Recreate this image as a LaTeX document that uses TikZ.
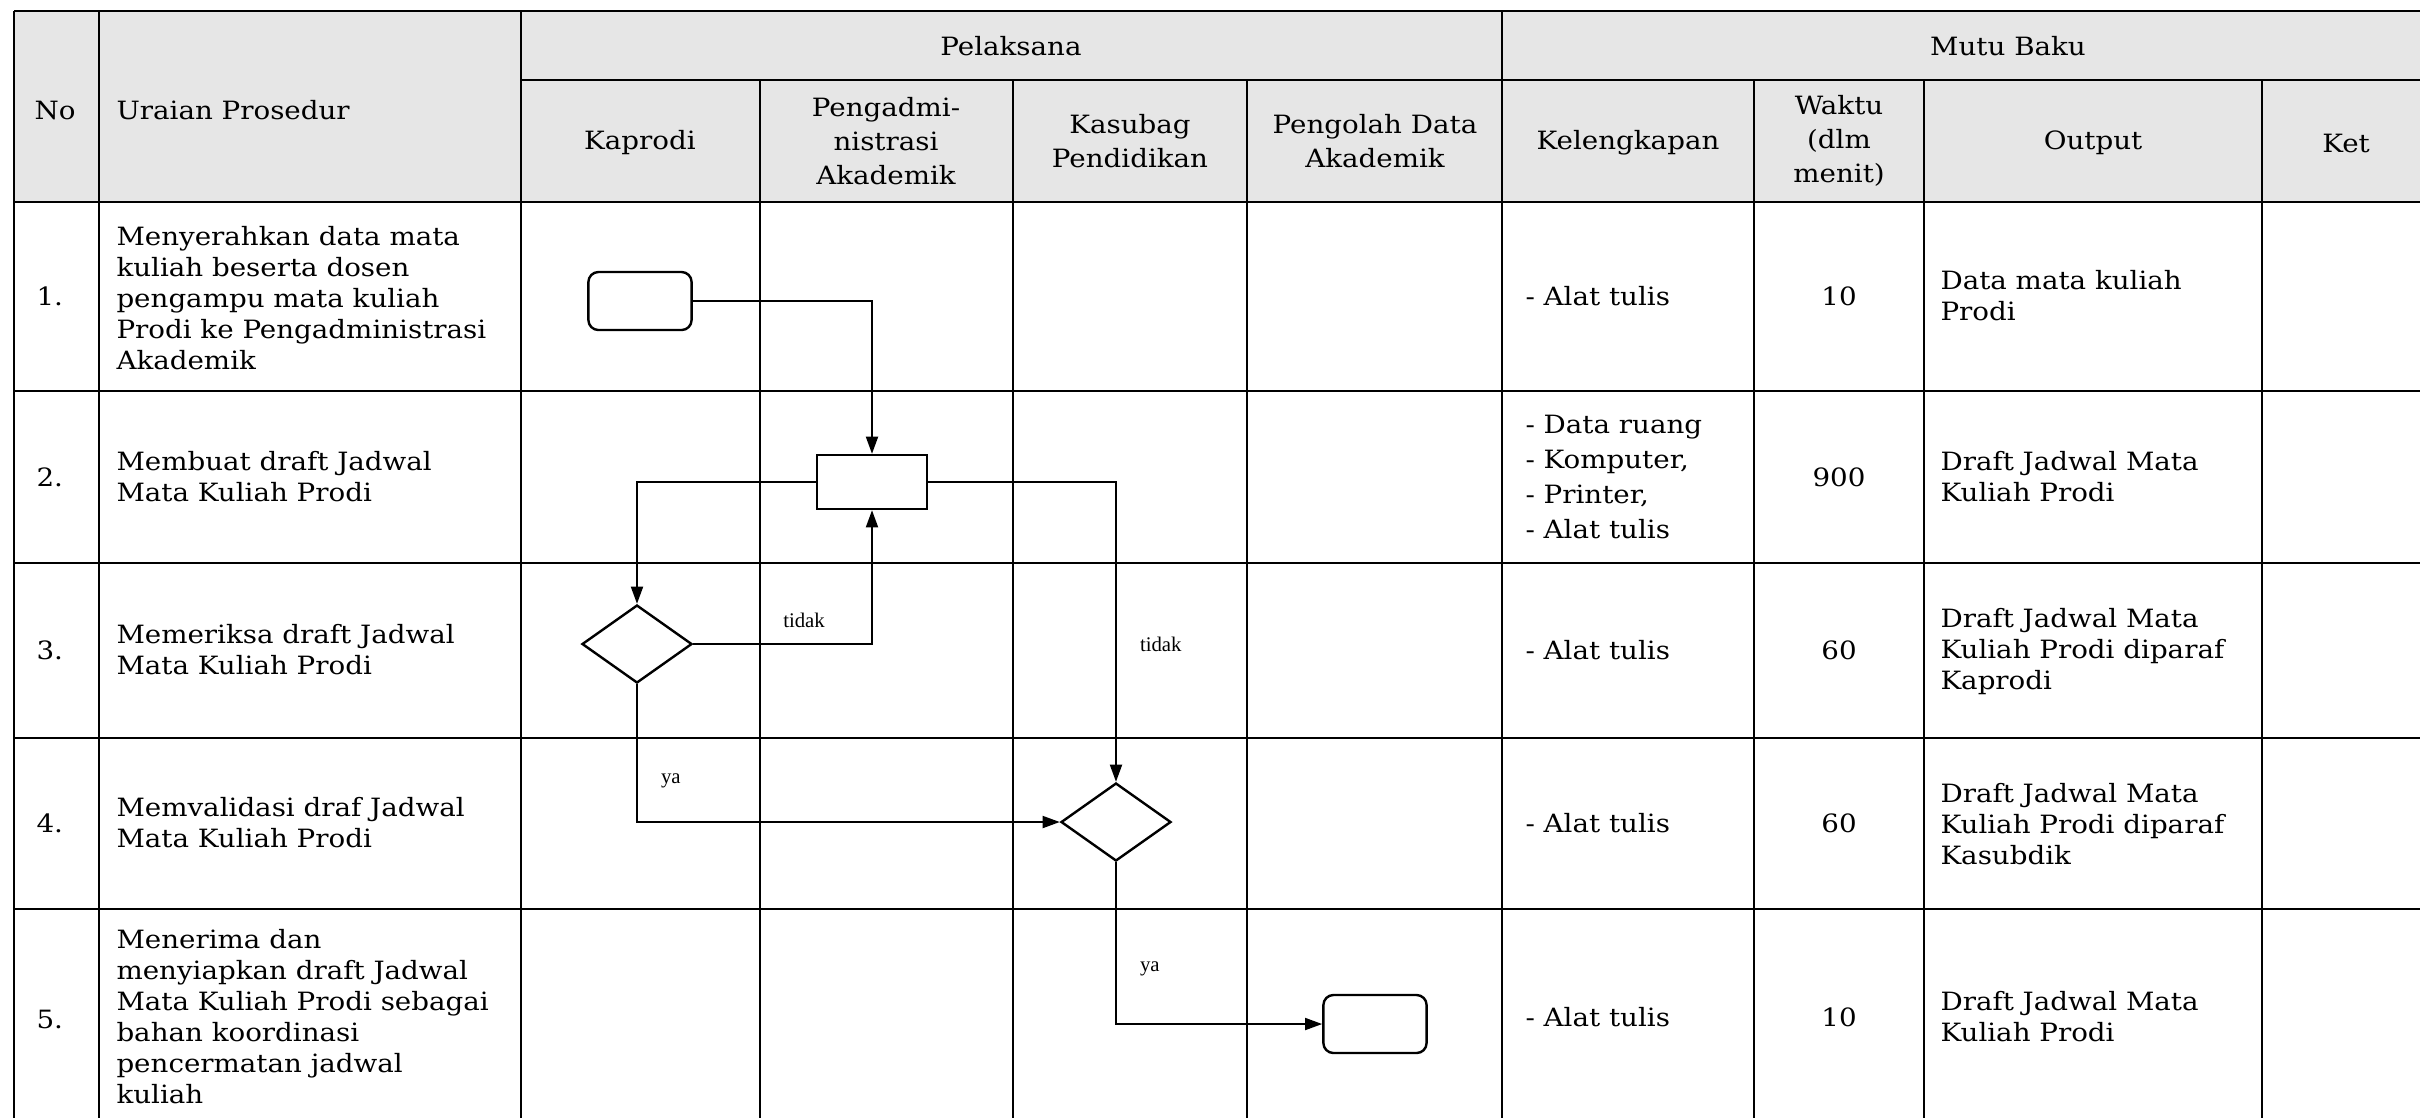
\documentclass[tikz,border=0pt]{standalone}
\usepackage{fontspec}
\setmainfont{DejaVu Serif}[FakeStretch=1.1]
\newfontfamily\lblfont{Liberation Serif}
\usetikzlibrary{arrows.meta,shapes.geometric}

\definecolor{hdrgray}{RGB}{230,230,230}

\tikzset{every picture/.style={line width=0.75pt}}
\tikzset{
  grid/.style={line width=0.6pt},
  celltxt/.style={inner sep=0.75pt, font=\fontsize{6.3}{7.75}\selectfont, align=left, anchor=west},
  hdrtxt/.style={inner sep=0.75pt, font=\fontsize{6.3}{8.5}\selectfont, align=center},
  numtxt/.style={inner sep=0.75pt, font=\fontsize{6.3}{7.75}\selectfont},
  flow/.style={line width=0.5pt, -{Triangle[length=4.3pt,width=3pt]}},
  termbox/.style={draw, line width=0.6pt, rounded corners=2.5pt, minimum width=25.8pt, minimum height=14.5pt, inner sep=0pt},
  procbox/.style={draw, line width=0.6pt, minimum width=27.5pt, minimum height=13.5pt, inner sep=0pt},
  decbox/.style={draw, diamond, line width=0.6pt, minimum width=27.5pt, minimum height=19.5pt, inner sep=0pt},
  lbl/.style={inner sep=0.75pt, font=\lblfont\fontsize{5.2}{6}\selectfont}
}

\begin{document}
\begin{tikzpicture}[x=0.25pt,y=0.25pt,yscale=-1,xscale=1]
\useasboundingbox (0,0) rectangle (2420,1118);

%Header shading
\fill [hdrgray] (14,11) rectangle (2420,202);

%Straight Lines (table)
\foreach \yy in {11,202,391,563,738,909} \draw [grid] (14,\yy) -- (2420,\yy);
\draw [grid] (521,80) -- (2420,80);
\foreach \xx in {14,99,521,1502} \draw [grid] (\xx,11) -- (\xx,1118);
\foreach \xx in {760,1013,1247,1754,1924,2262} \draw [grid] (\xx,80) -- (\xx,1118);

% Header Text
\node (hno) at (30,110) [numtxt, anchor=west] {No};
\node (huraian) at (112,110) [celltxt] {Uraian Prosedur};
\node (hpelaksana) at (1011,46) [hdrtxt] {Pelaksana};
\node (hmutu) at (2008,46) [hdrtxt] {Mutu Baku};
\node (hkaprodi) at (640,143) [hdrtxt] {Kaprodi};
\node (hadmin) at (886,141) [hdrtxt] {Pengadmi-\\nistrasi\\Akademik};
\node (hkasubag) at (1130,141) [hdrtxt] {Kasubag\\Pendidikan};
\node (hpengolah) at (1375,141) [hdrtxt] {Pengolah Data\\Akademik};
\node (hkeleng) at (1628,143) [hdrtxt] {Kelengkapan};
\node (hwaktu) at (1839,141) [hdrtxt] {Waktu\\(dlm\\menit)};
\node (houtput) at (2093,143) [hdrtxt] {Output};
\node (hket) at (2346,143) [hdrtxt] {Ket};

% Row numbers
\node (n1) at (32,296) [numtxt, anchor=west] {1.};
\node (n2) at (32,477) [numtxt, anchor=west] {2.};
\node (n3) at (32,650) [numtxt, anchor=west] {3.};
\node (n4) at (32,823) [numtxt, anchor=west] {4.};
\node (n5) at (32,1019) [numtxt, anchor=west] {5.};

% Uraian Prosedur
\node (u1) at (112,298) [celltxt] {Menyerahkan data mata\\kuliah beserta dosen\\pengampu mata kuliah\\Prodi ke Pengadministrasi\\Akademik};
\node (u2) at (112,477) [celltxt] {Membuat draft Jadwal\\Mata Kuliah Prodi};
\node (u3) at (112,650) [celltxt] {Memeriksa draft Jadwal\\Mata Kuliah Prodi};
\node (u4) at (112,823) [celltxt] {Memvalidasi draf Jadwal\\Mata Kuliah Prodi};
\node (u5) at (112,1017) [celltxt] {Menerima dan\\menyiapkan draft Jadwal\\Mata Kuliah Prodi sebagai\\bahan koordinasi\\pencermatan jadwal\\kuliah};

% Kelengkapan
\node (k1) at (1521,296) [celltxt] {- Alat tulis};
\node (k2) at (1521,477) [celltxt, font=\fontsize{6.3}{8.75}\selectfont] {- Data ruang\\- Komputer,\\- Printer,\\- Alat tulis};
\node (k3) at (1521,650) [celltxt] {- Alat tulis};
\node (k4) at (1521,823) [celltxt] {- Alat tulis};
\node (k5) at (1521,1017) [celltxt] {- Alat tulis};

% Waktu
\node (w1) at (1839,296) [numtxt] {10};
\node (w2) at (1839,477) [numtxt] {900};
\node (w3) at (1839,650) [numtxt] {60};
\node (w4) at (1839,823) [numtxt] {60};
\node (w5) at (1839,1017) [numtxt] {10};

% Output
\node (o1) at (1936,296) [celltxt] {Data mata kuliah\\Prodi};
\node (o2) at (1936,477) [celltxt] {Draft Jadwal Mata\\Kuliah Prodi};
\node (o3) at (1936,652) [celltxt] {Draft Jadwal Mata\\Kuliah Prodi diparaf\\Kaprodi};
\node (o4) at (1936,824) [celltxt] {Draft Jadwal Mata\\Kuliah Prodi diparaf\\Kasubdik};
\node (o5) at (1936,1017) [celltxt] {Draft Jadwal Mata\\Kuliah Prodi};

% Flow shapes
\node (start) at (640,301) [termbox] {};
\node (draft) at (872,482) [procbox] {};
\node (cekprodi) at (637,644) [decbox] {};
\node (cekbag) at (1116,822) [decbox] {};
\node (finish) at (1375,1024) [termbox] {};

% Connectors
\draw [flow] (start.east) -| (draft.north);
\draw [flow] (draft.west) -| (cekprodi.north);
\draw [flow] (draft.east) -| (cekbag.north) node (tidakb) [lbl, pos=0.77, anchor=west, xshift=5pt] {tidak};
\draw [flow] (cekprodi.east) -| (draft.south) node (tidaka) [lbl, pos=0.31, anchor=south, yshift=3pt] {tidak};
\draw [flow] (cekprodi.south) |- (cekbag.west) node (yaa) [lbl, pos=0.35, anchor=west, xshift=5pt] {ya};
\draw [flow] (cekbag.south) |- (finish.west) node (yab) [lbl, pos=0.33, anchor=west, xshift=5pt] {ya};

\end{tikzpicture}
\end{document}
